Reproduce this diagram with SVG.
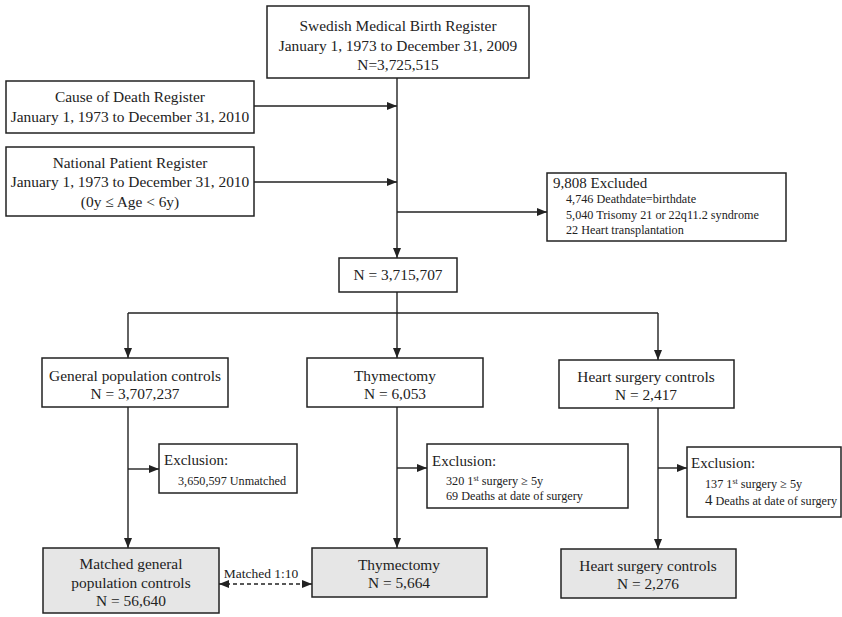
<svg xmlns="http://www.w3.org/2000/svg" width="842" height="617" viewBox="0 0 842 617">
<style>
text{font-family:"Liberation Serif","Times New Roman",serif;fill:#222}
.b{fill:#fff;stroke:#222;stroke-width:1.5}
.g{fill:#e6e6e6;stroke:#222;stroke-width:1.5}
.t{font-size:15.4px;text-anchor:middle}
.h{font-size:15px}
.s{font-size:12.2px}
.c{fill:none;stroke:#222;stroke-width:1.4}
.d{stroke-dasharray:4,3}
</style>
<defs>
<marker id="a" viewBox="0 0 10 8" refX="10" refY="4" markerWidth="10" markerHeight="8" markerUnits="userSpaceOnUse" orient="auto"><path d="M0,0L10,4L0,8z" fill="#222"/></marker>
<marker id="s" viewBox="0 0 10 8" refX="0" refY="4" markerWidth="10" markerHeight="8" markerUnits="userSpaceOnUse" orient="auto"><path d="M10,0L0,4L10,8z" fill="#222"/></marker>
</defs>
<g id="connectors">
<path class="c" d="M397,78V258" marker-end="url(#a)"/>
<path class="c" d="M254,106H397" marker-end="url(#a)"/>
<path class="c" d="M254,182H397" marker-end="url(#a)"/>
<path class="c" d="M397,212H547" marker-end="url(#a)"/>
<path class="c" d="M397,292V313"/>
<path class="c" d="M128,313H658"/>
<path class="c" d="M128,313V358" marker-end="url(#a)"/>
<path class="c" d="M397,313V358" marker-end="url(#a)"/>
<path class="c" d="M658,313V360" marker-end="url(#a)"/>
<path class="c" d="M128,407V548" marker-end="url(#a)"/>
<path class="c" d="M128,469H159" marker-end="url(#a)"/>
<path class="c" d="M397,407V548" marker-end="url(#a)"/>
<path class="c" d="M397,468H427" marker-end="url(#a)"/>
<path class="c" d="M658,408V549" marker-end="url(#a)"/>
<path class="c" d="M658,468H687" marker-end="url(#a)"/>
<path class="c d" d="M219,584H312" marker-start="url(#s)" marker-end="url(#a)"/>
<text x="261" y="578" text-anchor="middle" style="font-size:13.5px">Matched 1:10</text>
</g>
<g id="mbr">
<rect class="b" x="267" y="6" width="262" height="72"/>
<text class="t" x="398" y="31">Swedish Medical Birth Register</text>
<text class="t" x="398" y="51">January 1, 1973 to December 31, 2009</text>
<text class="t" x="398" y="70">N=3,725,515</text>
</g>
<g id="cdr">
<rect class="b" x="6" y="81" width="248" height="52"/>
<text class="t" x="130" y="102">Cause of Death Register</text>
<text class="t" x="130" y="122">January 1, 1973 to December 31, 2010</text>
</g>
<g id="npr">
<rect class="b" x="6" y="147" width="248" height="69"/>
<text class="t" x="130" y="168">National Patient Register</text>
<text class="t" x="130" y="187">January 1, 1973 to December 31, 2010</text>
<text class="t" x="130" y="207">(0y ≤ Age &lt; 6y)</text>
</g>
<g id="excluded">
<rect class="b" x="547" y="173" width="239" height="68"/>
<text class="h" x="553" y="188">9,808 Excluded</text>
<text class="s" x="566" y="203">4,746 Deathdate=birthdate</text>
<text class="s" x="566" y="219">5,040 Trisomy 21 or 22q11.2 syndrome</text>
<text class="s" x="566" y="234">22 Heart transplantation</text>
</g>
<g id="n3715707">
<rect class="b" x="339" y="258" width="118" height="34"/>
<text class="t" x="398" y="280">N = 3,715,707</text>
</g>
<g id="gpc">
<rect class="b" x="42" y="358" width="186" height="49"/>
<text class="t" x="135" y="381">General population controls</text>
<text class="t" x="135" y="399">N = 3,707,237</text>
</g>
<g id="thy">
<rect class="b" x="307" y="358" width="176" height="49"/>
<text class="t" x="395" y="381">Thymectomy</text>
<text class="t" x="395" y="399">N = 6,053</text>
</g>
<g id="hsc">
<rect class="b" x="559" y="360" width="175" height="48"/>
<text class="t" x="646" y="382">Heart surgery controls</text>
<text class="t" x="646" y="400">N = 2,417</text>
</g>
<g id="ex1">
<rect class="b" x="159" y="444" width="138" height="49"/>
<text class="h" x="164" y="465">Exclusion:</text>
<text class="s" x="178" y="485">3,650,597 Unmatched</text>
</g>
<g id="ex2">
<rect class="b" x="427" y="444" width="201" height="64"/>
<text class="h" x="432" y="466">Exclusion:</text>
<text class="s" x="446" y="485">320 1<tspan dy="-4" style="font-size:8px">st</tspan><tspan dy="4"> surgery ≥ 5y</tspan></text>
<text class="s" x="446" y="500">69 Deaths at date of surgery</text>
</g>
<g id="ex3">
<rect class="b" x="687" y="447" width="154" height="70"/>
<text class="h" x="691" y="468">Exclusion:</text>
<text class="s" x="705" y="488">137 1<tspan dy="-4" style="font-size:8px">st</tspan><tspan dy="4"> surgery ≥ 5y</tspan></text>
<text class="s" x="705" y="505"><tspan style="font-size:15px">4</tspan> Deaths at date of surgery</text>
</g>
<g id="mgpc">
<rect class="g" x="43" y="548" width="176" height="65"/>
<text class="t" x="131" y="569">Matched general</text>
<text class="t" x="131" y="588">population controls</text>
<text class="t" x="131" y="606">N = 56,640</text>
</g>
<g id="thy2">
<rect class="g" x="312" y="548" width="175" height="49"/>
<text class="t" x="399" y="570">Thymectomy</text>
<text class="t" x="399" y="588">N = 5,664</text>
</g>
<g id="hsc2">
<rect class="g" x="561" y="549" width="175" height="49"/>
<text class="t" x="648" y="571">Heart surgery controls</text>
<text class="t" x="648" y="589">N = 2,276</text>
</g>
</svg>
